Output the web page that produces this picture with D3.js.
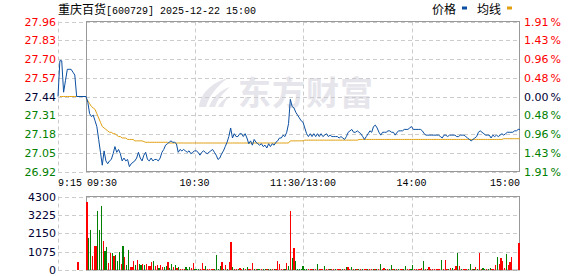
<!DOCTYPE html>
<html>
<head>
<meta charset="utf-8">
<script src="https://cdn.jsdelivr.net/npm/d3@7"></script>
<style>
  body { margin: 0; background: #fff; }
  svg { display: block; }
</style>
</head>
<body>
<div id="chart"></div>
<script>
var width = 578;
var height = 276;

// header
var stockName = "重庆百货";
var stockCode = "[600729]";
var stamp = "2025-12-22 15:00";
var legendNames = ["价格", "均线"];

// axes
var prevClose = 27.44;
var maxPct = 0.0191;
var volMax = 4300;
var priceLabels = ["27.96", "27.83", "27.70", "27.57", "27.44", "27.31", "27.18", "27.05", "26.92"];
var pctLabels = ["1.91", "1.43", "0.96", "0.48", "0.00", "0.48", "0.96", "1.43", "1.91"];
var volLabels = ["4300", "3225", "2150", "1075", "0"];
var preTickLabel = "9:15";
var sessionTicks = [0, 60, 120, 180, 240];
var sessionTickLabels = ["09:30", "10:30", "11:30/13:00", "14:00", "15:00"];

// call auction 9:15 - 9:25 (minutes after 9:15)
var preMinutes = [0, 1, 2, 3, 4, 5, 6, 7, 8, 9, 10, 15];
var prePrice = [27.44, 27.69, 27.69, 27.47, 27.55, 27.63, 27.63, 27.63, 27.61, 27.59, 27.44, 27.44];
var preAvg = [null, 27.44, 27.44, 27.44, 27.44, 27.44, 27.44, 27.44, 27.44, 27.44, 27.44, 27.44];
var preVolMinute = 10;
var preVolume = 460;

// one value per minute, 09:30 .. 11:30 / 13:00 .. 15:00
var price = [
  27.44, 27.40, 27.32, 27.30, 27.31, 27.27, 27.23, 27.14, 27.05, 26.96,
  27.06, 26.99, 26.97, 26.99, 27.00, 27.04, 27.09, 27.05, 27.07, 27.04,
  26.99, 27.01, 26.99, 27.00, 26.95, 26.97, 26.98, 26.99, 27.01, 27.05,
  27.01, 26.99, 27.03, 27.05, 27.00, 26.99, 27.01, 26.99, 27.00, 27.00,
  26.99, 27.01, 27.05, 27.07, 27.10, 27.11, 27.12, 27.13, 27.12, 27.12,
  27.11, 27.05, 27.07, 27.06, 27.07, 27.06, 27.05, 27.06, 27.04, 27.05,
  27.06, 27.06, 27.05, 27.03, 27.05, 27.06, 27.05, 27.04, 27.05, 27.06,
  27.07, 27.05, 27.03, 27.00, 27.01, 27.04, 27.06, 27.09, 27.12, 27.16,
  27.22, 27.15, 27.18, 27.16, 27.16, 27.18, 27.18, 27.16, 27.18, 27.15,
  27.11, 27.13, 27.10, 27.14, 27.12, 27.11, 27.10, 27.11, 27.09, 27.10,
  27.08, 27.11, 27.09, 27.11, 27.10, 27.12, 27.13, 27.15, 27.15, 27.17,
  27.16, 27.19, 27.25, 27.42, 27.37, 27.36, 27.33, 27.31, 27.29, 27.27,
  27.26, 27.22, 27.18, 27.16, 27.18, 27.16, 27.18, 27.16, 27.18, 27.16,
  27.18, 27.16, 27.17, 27.18, 27.16, 27.17, 27.16, 27.16, 27.16, 27.16,
  27.15, 27.16, 27.15, 27.14, 27.16, 27.19, 27.20, 27.21, 27.19, 27.19,
  27.20, 27.19, 27.18, 27.16, 27.14, 27.16, 27.18, 27.20, 27.19, 27.23,
  27.24, 27.22, 27.19, 27.17, 27.19, 27.19, 27.19, 27.20, 27.20, 27.19,
  27.19, 27.17, 27.19, 27.20, 27.20, 27.20, 27.21, 27.21, 27.21, 27.22,
  27.23, 27.21, 27.21, 27.21, 27.21, 27.21, 27.20, 27.18, 27.17, 27.17,
  27.17, 27.17, 27.17, 27.17, 27.17, 27.17, 27.16, 27.15, 27.17, 27.17,
  27.16, 27.17, 27.17, 27.17, 27.17, 27.16, 27.16, 27.17, 27.17, 27.17,
  27.16, 27.15, 27.14, 27.13, 27.14, 27.15, 27.16, 27.19, 27.20, 27.19,
  27.18, 27.17, 27.17, 27.17, 27.15, 27.17, 27.16, 27.17, 27.16, 27.17,
  27.18, 27.17, 27.18, 27.19, 27.19, 27.19, 27.19, 27.20, 27.20, 27.21,
  27.21
];

var avgPrice = [
  27.43, 27.41, 27.39, 27.37, 27.36, 27.35, 27.32, 27.29, 27.26, 27.23,
  27.22, 27.21, 27.20, 27.19, 27.19, 27.18, 27.18, 27.17, 27.16, 27.16,
  27.15, 27.15, 27.15, 27.14, 27.14, 27.14, 27.14, 27.13, 27.13, 27.13,
  27.13, 27.13, 27.125, 27.12, 27.12, 27.12, 27.12, 27.12, 27.12, 27.12,
  27.12, 27.12, 27.12, 27.12, 27.12, 27.12, 27.115, 27.115, 27.115, 27.115,
  27.115, 27.115, 27.115, 27.115, 27.115, 27.115, 27.115, 27.115, 27.115, 27.115,
  27.115, 27.115, 27.115, 27.115, 27.115, 27.115, 27.115, 27.115, 27.115, 27.115,
  27.115, 27.115, 27.115, 27.115, 27.115, 27.115, 27.115, 27.115, 27.115, 27.115,
  27.115, 27.115, 27.115, 27.115, 27.115, 27.115, 27.115, 27.115, 27.115, 27.115,
  27.115, 27.115, 27.115, 27.115, 27.115, 27.115, 27.115, 27.115, 27.115, 27.115,
  27.115, 27.115, 27.115, 27.115, 27.115, 27.115, 27.115, 27.115, 27.115, 27.115,
  27.115, 27.115, 27.115, 27.13, 27.13, 27.13, 27.13, 27.13, 27.13, 27.13,
  27.13, 27.135, 27.135, 27.135, 27.135, 27.135, 27.135, 27.135, 27.135, 27.135,
  27.135, 27.135, 27.135, 27.135, 27.135, 27.135, 27.135, 27.135, 27.135, 27.135,
  27.135, 27.135, 27.135, 27.135, 27.135, 27.135, 27.135, 27.135, 27.135, 27.135,
  27.135, 27.14, 27.14, 27.14, 27.14, 27.14, 27.14, 27.14, 27.14, 27.14,
  27.14, 27.14, 27.14, 27.14, 27.14, 27.14, 27.14, 27.14, 27.14, 27.14,
  27.14, 27.14, 27.14, 27.14, 27.14, 27.14, 27.14, 27.14, 27.14, 27.14,
  27.14, 27.14, 27.14, 27.14, 27.14, 27.14, 27.14, 27.14, 27.14, 27.14,
  27.14, 27.14, 27.14, 27.14, 27.14, 27.14, 27.14, 27.14, 27.14, 27.14,
  27.14, 27.14, 27.14, 27.14, 27.14, 27.14, 27.14, 27.14, 27.14, 27.14,
  27.14, 27.14, 27.14, 27.14, 27.14, 27.14, 27.14, 27.14, 27.14, 27.14,
  27.14, 27.14, 27.14, 27.14, 27.14, 27.14, 27.14, 27.14, 27.14, 27.14,
  27.14, 27.145, 27.145, 27.145, 27.145, 27.145, 27.145, 27.145, 27.145, 27.145,
  27.145
];

var volume = [
  3980, 1900, 2330, 800, 1390, 1390, 3450, 2330, 3740, 1690,
  1100, 1330, 390, 980, 980, 800, 860, 510, 1040, 330,
  1390, 745, 275, 1160, 160, 160, 510, 275, 570, 330,
  275, 330, 275, 330, 215, 215, 450, 510, 215, 275,
  100, 275, 160, 160, 215, 450, 100, 330, 160, 275,
  100, 160, 60, 60, 60, 160, 60, 160, 100, 390,
  40, 40, 40, 40, 390, 40, 215, 40, 40, 40,
  40, 40, 860, 40, 215, 450, 40, 275, 40, 450,
  1630, 160, 40, 40, 40, 100, 40, 100, 40, 160,
  40, 40, 390, 40, 40, 40, 40, 40, 40, 40,
  40, 40, 40, 40, 40, 40, 510, 330, 40, 40,
  40, 390, 215, 3450, 690, 1270, 510, 40, 40, 40,
  215, 40, 40, 40, 40, 40, 40, 40, 330, 40,
  40, 40, 215, 40, 40, 40, 40, 40, 40, 40,
  40, 40, 40, 40, 160, 160, 40, 160, 40, 40,
  40, 40, 40, 40, 40, 40, 40, 40, 40, 40,
  40, 40, 40, 330, 40, 100, 40, 40, 40, 275,
  40, 40, 40, 40, 40, 40, 40, 215, 40, 40,
  40, 275, 40, 40, 40, 40, 100, 510, 40, 40,
  160, 40, 40, 40, 40, 40, 40, 570, 40, 570,
  40, 40, 100, 100, 40, 215, 980, 215, 40, 40,
  40, 40, 40, 330, 40, 40, 160, 40, 980, 40,
  100, 40, 40, 40, 100, 40, 40, 275, 745, 330,
  690, 510, 100, 920, 275, 450, 745, 0, 0, 0,
  1570
];

// 1 = up (red), 0 = down (green)
var volUp = [
  1, 0, 0, 1, 1, 1, 0, 0, 0, 1,
  0, 0, 1, 1, 0, 1, 0, 0, 0, 1,
  0, 1, 0, 0, 1, 1, 1, 0, 1, 0,
  0, 1, 0, 1, 1, 1, 1, 0, 1, 1,
  0, 1, 1, 0, 0, 1, 0, 0, 1, 0,
  1, 0, 1, 1, 1, 0, 0, 0, 1, 1,
  0, 0, 0, 1, 1, 1, 0, 1, 1, 1,
  1, 0, 0, 0, 0, 1, 0, 1, 0, 1,
  1, 0, 1, 1, 0, 1, 1, 0, 1, 0,
  1, 1, 1, 0, 1, 0, 0, 1, 0, 0,
  1, 0, 0, 1, 0, 1, 1, 1, 1, 1,
  0, 1, 0, 1, 0, 1, 0, 0, 0, 0,
  0, 0, 0, 1, 1, 1, 0, 1, 0, 1,
  1, 1, 0, 1, 1, 0, 1, 1, 0, 1,
  1, 1, 0, 1, 0, 1, 1, 0, 1, 0,
  1, 0, 1, 0, 1, 1, 0, 1, 1, 0,
  1, 0, 1, 0, 1, 1, 0, 1, 0, 0,
  1, 0, 1, 0, 1, 1, 0, 0, 1, 1,
  0, 0, 1, 1, 1, 1, 1, 0, 1, 0,
  1, 1, 1, 1, 1, 1, 1, 0, 1, 1,
  1, 0, 1, 0, 1, 1, 0, 1, 0, 1,
  1, 1, 0, 0, 1, 0, 1, 0, 1, 1,
  0, 0, 1, 0, 0, 1, 1, 1, 0, 1,
  1, 1, 1, 0, 1, 1, 1, 1, 1, 1,
  1
];

var colUp = "#ff0000";
var colDown = "#008000";
var colFlat = "#000033";
var colPrice = "#0b4fa1";
var colAvg = "#e0a010";
var colGrid = "#cccccc";
var colBox = "#999999";
var numFont = "'DejaVu Sans', Verdana, sans-serif";
var monoFont = "'Liberation Mono', 'DejaVu Sans Mono', monospace";
var cjkFont = "'Noto Sans CJK SC', sans-serif";

var svg = d3.select("#chart")
    .append("svg")
    .attr("width", width)
    .attr("height", height)
    .style("background", "#fff");

// scales
var x = d3.scaleLinear().domain([0, 240]).range([86, 520]);
var xBar = d3.scaleBand().domain(d3.range(241)).range([86, 520]);
var xPre = d3.scaleLinear().domain([0, 15]).range([58, 86]);
var y = d3.scaleLinear()
    .domain([prevClose * (1 - maxPct), prevClose * (1 + maxPct)])
    .range([171.5, 21.5]);
var yVol = d3.scaleLinear().domain([0, volMax]).range([270, 196.5]);

var priceGrid = priceLabels.map((d, i) => y.domain()[1] - i * (y.domain()[1] - y.domain()[0]) / (priceLabels.length - 1));
var volGrid = volLabels.map((d, i) => volMax - i * volMax / (volLabels.length - 1));

// watermark
var wm = svg.append("g").attr("fill", "#e5e5eb");
var logo = wm.append("g").attr("transform", "translate(198,78)");
logo.append("path").attr("d", "M1,29 C2,17 12,5 30,0 C19,8 11,18 8,29 Z");
logo.append("path").attr("d", "M11,29 C14,20 22,12 32,9 C25,15 19,22 17,29 Z");
logo.append("path").attr("d", "M20,29 C22,24 27,20 32,18 C28,22 26,25 25,29 Z");
wm.append("text")
    .attr("x", 238)
    .attr("y", 105)
    .attr("font-family", cjkFont)
    .attr("font-weight", "bold")
    .attr("font-size", 33)
    .attr("letter-spacing", 1)
    .text("东方财富");

// grids
function hGrid(vals, scale, y0, y1) {
    svg.append("g")
        .selectAll("line")
        .data(vals)
        .join("line")
        .attr("x1", xPre(0)).attr("x2", x(240))
        .attr("y1", d => Math.round(scale(d)) + 0.5)
        .attr("y2", d => Math.round(scale(d)) + 0.5)
        .attr("stroke", colGrid)
        .attr("stroke-dasharray", "4,3");
}
function vGrid(y0, y1) {
    var xs = [xPre(0)].concat(sessionTicks.slice(1, -1).map(t => x(t)));
    svg.append("g")
        .selectAll("line")
        .data(xs)
        .join("line")
        .attr("x1", d => Math.round(d) + 0.5).attr("x2", d => Math.round(d) + 0.5)
        .attr("y1", y0).attr("y2", y1)
        .attr("stroke", colGrid)
        .attr("stroke-dasharray", "4,3");
}
hGrid(priceGrid, y);
vGrid(21.5, 171.5);
hGrid(volGrid, yVol);
vGrid(196.5, 270);

// boxes
svg.append("rect")
    .attr("x", 86.5).attr("y", 21.5)
    .attr("width", 433).attr("height", 150)
    .attr("fill", "none").attr("stroke", colBox);
svg.append("rect")
    .attr("x", 86.5).attr("y", 196.5)
    .attr("width", 433).attr("height", 73.5)
    .attr("fill", "none").attr("stroke", colBox);

// left price labels
svg.append("g")
    .selectAll("text")
    .data(priceLabels)
    .join("text")
    .attr("x", 56)
    .attr("y", (d, i) => y(priceGrid[i]) + 4)
    .attr("text-anchor", "end")
    .attr("font-family", numFont)
    .attr("font-size", 11)
    .attr("fill", (d, i) => i < 4 ? colUp : (i === 4 ? colFlat : colDown))
    .text(d => d);

// right percent labels
var pct = svg.append("g")
    .selectAll("text")
    .data(pctLabels)
    .join("text")
    .attr("x", 524)
    .attr("y", (d, i) => y(priceGrid[i]) + 4)
    .attr("font-family", numFont)
    .attr("font-size", 11)
    .attr("fill", (d, i) => i < 4 ? colUp : (i === 4 ? colFlat : colDown));
pct.append("tspan").text(d => d);
pct.append("tspan").attr("dx", 2).text("%");

// volume labels
svg.append("g")
    .selectAll("text")
    .data(volLabels)
    .join("text")
    .attr("x", 56)
    .attr("y", (d, i) => yVol(volGrid[i]) + 4)
    .attr("text-anchor", "end")
    .attr("font-family", numFont)
    .attr("font-size", 11)
    .attr("fill", colFlat)
    .text(d => d);

// time labels
svg.append("text")
    .attr("x", xPre(0))
    .attr("y", 185.5)
    .attr("font-family", monoFont)
    .attr("font-size", 10)
    .attr("fill", "#000")
    .text(preTickLabel);
svg.append("g")
    .selectAll("text")
    .data(sessionTicks)
    .join("text")
    .attr("x", (d, i) => i === 0 ? x(d) + 1 : x(d))
    .attr("y", 185.5)
    .attr("text-anchor", (d, i) => i === 0 ? "start" : (i === sessionTicks.length - 1 ? "end" : "middle"))
    .attr("font-family", monoFont)
    .attr("font-size", 10)
    .attr("fill", "#000")
    .text((d, i) => sessionTickLabels[i]);

// volume bars
svg.append("g")
    .attr("shape-rendering", "crispEdges")
    .selectAll("rect")
    .data(volume)
    .join("rect")
    .attr("x", (d, i) => xBar(i) + xBar.bandwidth() / 2 - 0.6)
    .attr("width", 1.2)
    .attr("y", d => yVol(d) - (d > 0 ? 0.01 : 0))
    .attr("height", d => d > 0 ? Math.max(1, yVol(0) - yVol(d)) : 0)
    .attr("fill", (d, i) => volUp[i] ? colUp : colDown);
svg.append("rect")
    .attr("shape-rendering", "crispEdges")
    .attr("x", xPre(preVolMinute) + 0.8)
    .attr("width", 1.2)
    .attr("y", yVol(preVolume))
    .attr("height", yVol(0) - yVol(preVolume))
    .attr("fill", colUp);

// lines
var avgLine = d3.line().defined(d => d != null);
svg.append("path")
    .datum(preAvg)
    .attr("fill", "none")
    .attr("stroke", colAvg)
    .attr("stroke-width", 1)
    .attr("d", avgLine.x((d, i) => xPre(preMinutes[i])).y(d => y(d)));
svg.append("path")
    .datum(avgPrice)
    .attr("fill", "none")
    .attr("stroke", colAvg)
    .attr("stroke-width", 1)
    .attr("d", d3.line().x((d, i) => x(i)).y(d => y(d)));
svg.append("path")
    .datum(prePrice)
    .attr("fill", "none")
    .attr("stroke", colPrice)
    .attr("stroke-width", 1)
    .attr("d", d3.line().x((d, i) => xPre(preMinutes[i])).y(d => y(d)));
svg.append("path")
    .datum(price)
    .attr("fill", "none")
    .attr("stroke", colPrice)
    .attr("stroke-width", 1)
    .attr("d", d3.line().x((d, i) => x(i)).y(d => y(d)));

// title
var title = svg.append("text")
    .attr("x", 58)
    .attr("y", 13.5)
    .attr("fill", "#000");
title.append("tspan")
    .attr("font-family", cjkFont)
    .attr("font-size", 12)
    .text(stockName);
title.append("tspan")
    .attr("font-family", monoFont)
    .attr("font-size", 10)
    .text(stockCode + " " + stamp);

// legend
var legendX = [432, 477];
var legendCol = [colPrice, colAvg];
var legend = svg.append("g")
    .selectAll("g")
    .data(legendNames)
    .join("g");
legend.append("text")
    .attr("x", (d, i) => legendX[i])
    .attr("y", 13.5)
    .attr("font-family", cjkFont)
    .attr("font-size", 12)
    .attr("fill", "#000")
    .text(d => d);
legend.append("rect")
    .attr("x", (d, i) => legendX[i] + 30)
    .attr("y", 6.5)
    .attr("width", 5)
    .attr("height", 3)
    .attr("fill", (d, i) => legendCol[i]);
</script>
</body>
</html>
